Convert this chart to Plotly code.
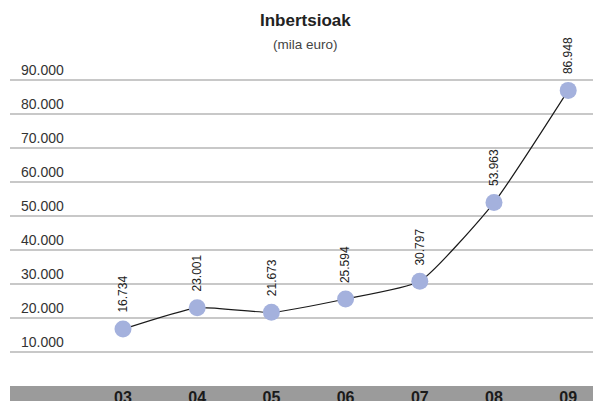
import plotly.graph_objects as go

years = ["03", "04", "05", "06", "07", "08", "09"]
values = [16734, 23001, 21673, 25594, 30797, 53963, 86948]
labels = ["16.734", "23.001", "21.673", "25.594", "30.797", "53.963", "86.948"]
ytick_vals = [10000, 20000, 30000, 40000, 50000, 60000, 70000, 80000, 90000]
ytick_text = ["10.000", "20.000", "30.000", "40.000", "50.000", "60.000", "70.000", "80.000", "90.000"]

fig = go.Figure()
fig.add_trace(go.Scatter(
    x=list(range(len(years))), y=values, mode="lines+markers",
    line=dict(color="#1a1a1a", width=1.2, shape="spline", smoothing=0.5),
    marker=dict(size=17, color="#a4b1dd"),
    cliponaxis=False, hoverinfo="skip",
))

for i, (v, t) in enumerate(zip(values, labels)):
    fig.add_annotation(x=i, y=v, text=t, textangle=-90, showarrow=False,
                       xanchor="center", yanchor="bottom", yshift=14,
                       font=dict(family="Liberation Sans", size=12, color="#222"))

# grey band at bottom
fig.add_shape(type="rect", xref="paper", yref="paper", x0=0, x1=1, y0=-0.1, y1=0,
              fillcolor="#9b9b9b", line=dict(width=0), layer="below")

fig.add_annotation(xref="paper", yref="paper", x=0.5, y=1, yshift=26, text="<b>Inbertsioak</b>",
                   showarrow=False, xanchor="center", yanchor="middle",
                   font=dict(family="Liberation Sans", size=17, color="#222"))
fig.add_annotation(xref="paper", yref="paper", x=0.5, y=1, yshift=2, text="(mila euro)",
                   showarrow=False, xanchor="center", yanchor="middle",
                   font=dict(family="Liberation Sans", size=13.5, color="#444"))

fig.update_layout(
    width=593, height=393,
    margin=dict(l=2, r=0, t=38, b=15),
    paper_bgcolor="white", plot_bgcolor="white",
    showlegend=False,
    xaxis=dict(range=[-1.523, 6.442], tickvals=list(range(len(years))), ticktext=years,
               showgrid=False, zeroline=False, showline=False, ticks="", automargin=False,
               tickfont=dict(family="Liberation Sans", size=16, color="#1a1a1a", weight="bold"),
               ticklabelstandoff=0),
    yaxis=dict(range=[0, 100000], tickvals=ytick_vals, ticktext=ytick_text, automargin=False,
               showgrid=True, gridcolor="#c8c8c8", gridwidth=1.5, zeroline=False,
               showline=False, ticks="", ticklabelposition="inside top",
               tickfont=dict(family="Liberation Sans", size=14, color="#333"),
               ticklabelstandoff=8),
)

fig.write_html("out.html")
